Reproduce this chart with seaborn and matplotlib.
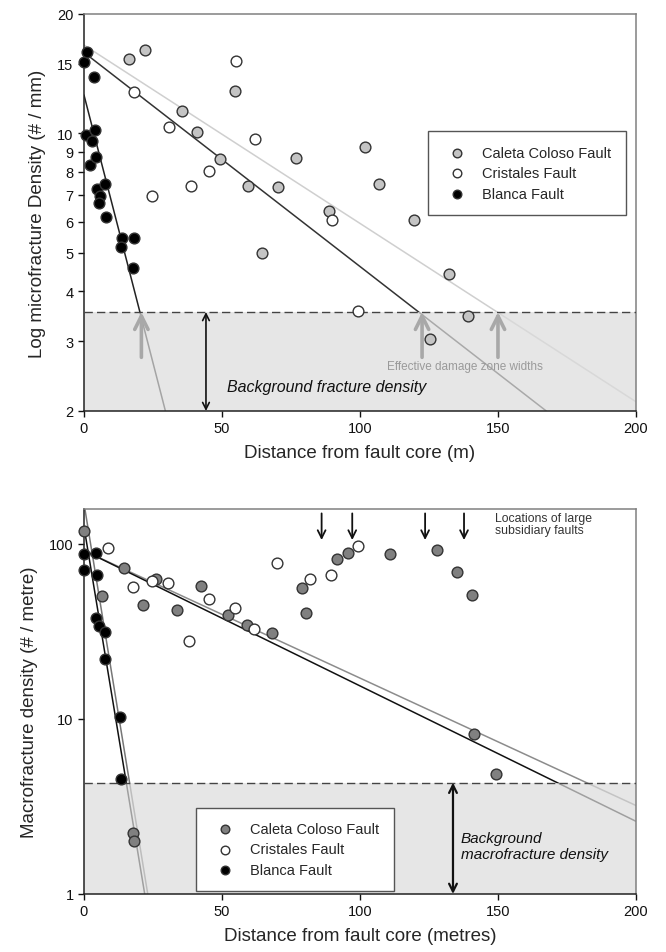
import matplotlib
matplotlib.use("Agg")
import matplotlib.pyplot as plt
from matplotlib.ticker import NullLocator
import seaborn as sns
import pandas as pd

# ---- top panel: microfracture density (# / mm) ----
top_caleta_x = [16.3, 22.0, 54.7, 35.4, 40.8, 49.3, 59.3, 70.4, 76.8, 64.6, 88.9,
                102.0, 107.0, 119.4, 132.1, 139.0, 125.4]
top_caleta_y = [15.4, 16.2, 12.8, 11.4, 10.1, 8.63, 7.39, 7.32, 8.66, 4.99, 6.39,
                9.23, 7.46, 6.07, 4.42, 3.46, 3.04]
top_cristales_x = [18.2, 55.0, 30.8, 62.0, 45.4, 38.6, 24.5, 89.7, 99.4]
top_cristales_y = [12.7, 15.2, 10.4, 9.67, 8.06, 7.39, 6.95, 6.06, 3.58]
top_blanca_x = [0.1, 1.2, 3.7, 0.7, 4.0, 2.8, 2.3, 4.5, 4.8, 7.7, 5.8, 5.5, 8.0,
                13.6, 13.4, 18.2, 17.9]
top_blanca_y = [15.1, 16.0, 13.9, 9.9, 10.2, 9.6, 8.34, 8.74, 7.25, 7.46, 6.97, 6.7,
                6.15, 5.46, 5.19, 5.46, 4.58]

# fitted lines (end points)
top_fit_blanca_x = [0, 29.5]
top_fit_blanca_y = [12.5, 2.0]
top_fit_dark_x = [0, 167.5]
top_fit_dark_y = [16.0, 2.0]
top_fit_light_x = [0, 200]
top_fit_light_y = [16.7, 2.11]

top_background = 3.55
top_damage_widths = [20.8, 122.5, 150.0]
top_yticks = [2, 3, 4, 5, 6, 7, 8, 9, 10, 15, 20]

# ---- bottom panel: macrofracture density (# / metre) ----
bot_caleta_x = [0.0, 14.6, 6.6, 21.5, 26.1, 33.6, 42.5, 52.3, 59.2, 68.2, 78.9, 80.4,
                91.6, 95.7, 110.9, 127.8, 135.0, 140.7, 141.2, 149.4, 17.7, 18.0]
bot_caleta_y = [117.6, 72.9, 50.2, 44.4, 63.1, 42.0, 57.5, 39.4, 34.4, 31.0, 55.8, 40.0,
                81.3, 88.1, 87.3, 92.4, 68.9, 51.1, 8.17, 4.86, 2.23, 2.0]
bot_cristales_x = [8.8, 17.9, 24.5, 30.3, 38.2, 45.3, 54.7, 61.7, 69.8, 81.9, 89.5, 99.2]
bot_cristales_y = [94.9, 56.6, 61.4, 59.6, 28.0, 48.5, 43.1, 32.4, 77.6, 62.5, 65.9, 97.0]
bot_blanca_x = [0.0, 0.0, 4.2, 4.8, 4.3, 5.5, 7.7, 7.5, 13.0, 13.5]
bot_blanca_y = [87.7, 71.0, 88.9, 66.5, 37.9, 34.1, 31.3, 22.0, 10.2, 4.54]

bot_fit_steep1_x = [0, 22.0]
bot_fit_steep1_y = [125, 1.0]
bot_fit_steep2_x = [0, 23.1]
bot_fit_steep2_y = [170, 1.0]
bot_fit_dark_x = [2.2, 200]
bot_fit_dark_y = [88, 2.6]
bot_fit_light_x = [2.2, 200]
bot_fit_light_y = [88, 3.2]

bot_background = 4.32
subsidiary_faults = [86.1, 97.2, 123.6, 137.7]
bot_yticks = [1, 10, 100]

xticks = [0, 50, 100, 150, 200]

sns.set_style("ticks")
plt.rcParams['font.family'] = ['Liberation Sans', 'DejaVu Sans']

fig = plt.figure(figsize=(6.66, 9.53), dpi=100)
ax1 = fig.add_axes([0.1261, 0.5677, 0.8288, 0.4166])
ax2 = fig.add_axes([0.1261, 0.0609, 0.8288, 0.4040])


def style_axes(ax, ylim, yticks):
    ax.set_yscale('log')
    ax.set_xlim(0, 200)
    ax.set_ylim(*ylim)
    ax.set_xticks(xticks)
    ax.set_xticklabels([str(t) for t in xticks])
    ax.set_yticks(yticks)
    ax.set_yticklabels([str(t) for t in yticks])
    ax.yaxis.set_minor_locator(NullLocator())
    ax.tick_params(direction='out', length=4, width=1, labelsize=10.5, colors='#111')
    for side in ['left', 'bottom']:
        ax.spines[side].set_color('#222')
        ax.spines[side].set_linewidth(1.1)
    for side in ['top', 'right']:
        ax.spines[side].set_visible(True)
        ax.spines[side].set_color('#808080')
        ax.spines[side].set_linewidth(1.1)


def scatter(ax, x, y, face, label, s=60):
    df = pd.DataFrame({'x': x, 'y': y})
    sns.scatterplot(data=df, x='x', y='y', ax=ax, color=face, edgecolor='#333',
                    linewidth=1.0, s=s, label=label, zorder=4, clip_on=False)


def fit_line(ax, x, y, color, lw=1.1):
    sns.lineplot(x=x, y=y, ax=ax, color=color, lw=lw, zorder=2)


# ---------------- top panel ----------------
style_axes(ax1, (2, 20), top_yticks)
fit_line(ax1, top_fit_light_x, top_fit_light_y, '#cfcfcf')
fit_line(ax1, top_fit_dark_x, top_fit_dark_y, '#333333')
fit_line(ax1, top_fit_blanca_x, top_fit_blanca_y, '#222222')
ax1.axhspan(2, top_background, color='#dcdcdc', alpha=0.7, lw=0, zorder=2.5)
ax1.axhline(top_background, color='#444', lw=1.0, dashes=(6, 3), zorder=3)

scatter(ax1, top_caleta_x, top_caleta_y, '#c4c4c4', 'Caleta Coloso Fault')
scatter(ax1, top_cristales_x, top_cristales_y, 'white', 'Cristales Fault')
scatter(ax1, top_blanca_x, top_blanca_y, 'black', 'Blanca Fault')

for xd in top_damage_widths:
    ax1.annotate('', xy=(xd, top_background), xytext=(xd, 2.73),
                 arrowprops=dict(arrowstyle='->', color='#a8a8a8', lw=2.6,
                                 mutation_scale=24, shrinkA=0, shrinkB=0), zorder=5)
ax1.text(138, 2.59, 'Effective damage zone widths', color='#9a9a9a', fontsize=8.5,
         ha='center', va='center', zorder=5)
ax1.annotate('', xy=(44.2, 2.0), xytext=(44.2, top_background),
             arrowprops=dict(arrowstyle='<->', color='#111', lw=1.2,
                             mutation_scale=12, shrinkA=0, shrinkB=0), zorder=5)
ax1.text(51.8, 2.30, 'Background fracture density', fontsize=11.5, style='italic',
         ha='left', va='center', color='#111', zorder=5)

leg1 = ax1.legend(loc='upper left', bbox_to_anchor=(0.623, 0.705), frameon=True,
                  fancybox=False, edgecolor='#555', facecolor='white', framealpha=1,
                  fontsize=10.5, borderpad=1.0, handlelength=2.0, handletextpad=0.7,
                  labelspacing=0.45, markerscale=0.8, borderaxespad=0)
leg1.get_frame().set_linewidth(1.0)
leg1.set_zorder(6)
ax1.set_xlabel('Distance from fault core (m)', fontsize=13.5, labelpad=6)
ax1.set_ylabel('Log microfracture Density (# / mm)', fontsize=13.5, labelpad=8)

# ---------------- bottom panel ----------------
style_axes(ax2, (1, 158), bot_yticks)
fit_line(ax2, bot_fit_light_x, bot_fit_light_y, '#8c8c8c')
fit_line(ax2, bot_fit_dark_x, bot_fit_dark_y, '#111111')
fit_line(ax2, bot_fit_steep2_x, bot_fit_steep2_y, '#777777')
fit_line(ax2, bot_fit_steep1_x, bot_fit_steep1_y, '#111111')
ax2.axhspan(1, bot_background, color='#dcdcdc', alpha=0.7, lw=0, zorder=2.5)
ax2.axhline(bot_background, color='#444', lw=1.0, dashes=(6, 3), zorder=3)

scatter(ax2, bot_caleta_x, bot_caleta_y, '#808080', 'Caleta Coloso Fault')
scatter(ax2, bot_cristales_x, bot_cristales_y, 'white', 'Cristales Fault')
scatter(ax2, bot_blanca_x, bot_blanca_y, 'black', 'Blanca Fault')

for xf in subsidiary_faults:
    ax2.annotate('', xy=(xf, 105), xytext=(xf, 149),
                 arrowprops=dict(arrowstyle='->', color='#111', lw=1.3,
                                 mutation_scale=14, shrinkA=0, shrinkB=0), zorder=5)
ax2.text(148.9, 130, 'Locations of large\nsubsidiary faults', fontsize=8.8,
         color='#333', ha='left', va='center', linespacing=1.05, zorder=5)
ax2.annotate('', xy=(133.7, 1.0), xytext=(133.7, bot_background),
             arrowprops=dict(arrowstyle='<->', color='#111', lw=1.6,
                             mutation_scale=14, shrinkA=0, shrinkB=0), zorder=5)
ax2.text(136.6, 1.88, 'Background\nmacrofracture density', fontsize=11, style='italic',
         ha='left', va='center', color='#111', linespacing=1.15, zorder=5)

leg2 = ax2.legend(loc='upper left', bbox_to_anchor=(0.203, 0.224), frameon=True,
                  fancybox=False, edgecolor='#555', facecolor='white', framealpha=1,
                  fontsize=10.5, borderpad=1.0, handlelength=2.0, handletextpad=0.7,
                  labelspacing=0.42, markerscale=0.8, borderaxespad=0)
leg2.get_frame().set_linewidth(1.0)
leg2.set_zorder(6)
ax2.set_xlabel('Distance from fault core (metres)', fontsize=13.5, labelpad=6)
ax2.set_ylabel('Macrofracture density (# / metre)', fontsize=13.5, labelpad=8)

fig.savefig('out.png', dpi=100)
